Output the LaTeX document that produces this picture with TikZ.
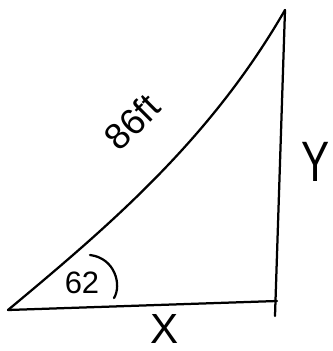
\documentclass[tikz,border=0pt]{standalone}
\usepackage{fontspec}
\setmainfont{Liberation Sans}
\usetikzlibrary{positioning}

\begin{document}
\begin{tikzpicture}[
    x=0.025cm, y=-0.025cm,
    stroke/.style={line width=1.6pt, line cap=round, line join=round},
    side/.style={font=\fontsize{30}{30}\selectfont, inner sep=0pt},
    tag/.style={font=\fontsize{22}{22}\selectfont, inner sep=1pt}
]
\useasboundingbox (0,0) rectangle (332,351);

% Ecken
\coordinate (left) at (8,310);
\coordinate (corner) at (277,301);
\coordinate (top) at (285,10);
\coordinate (foot) at (275,316);

% Seiten
\draw[stroke] (left) -- (corner);
\draw[stroke] (top) -- (foot);
\draw[stroke] (left) .. controls (110,225) and (210,140) .. (top);

% Winkel
\coordinate (arcA) at (90,255);
\coordinate (arcB) at (114,298);
\draw[stroke] (arcA) .. controls (115,258) and (122,285) .. (arcB);

% Beschriftungen
\node[tag] (angle) at (82,283) {62};
\node[tag, font=\fontsize{26}{26}\selectfont, rotate=45] (hyp) at (132,122) {86ft};
\node[side, yscale=1.35] (ylab) at (316,162) {Y};
\node[side] (xlab) at (165,329) {X};

\end{tikzpicture}
\end{document}
